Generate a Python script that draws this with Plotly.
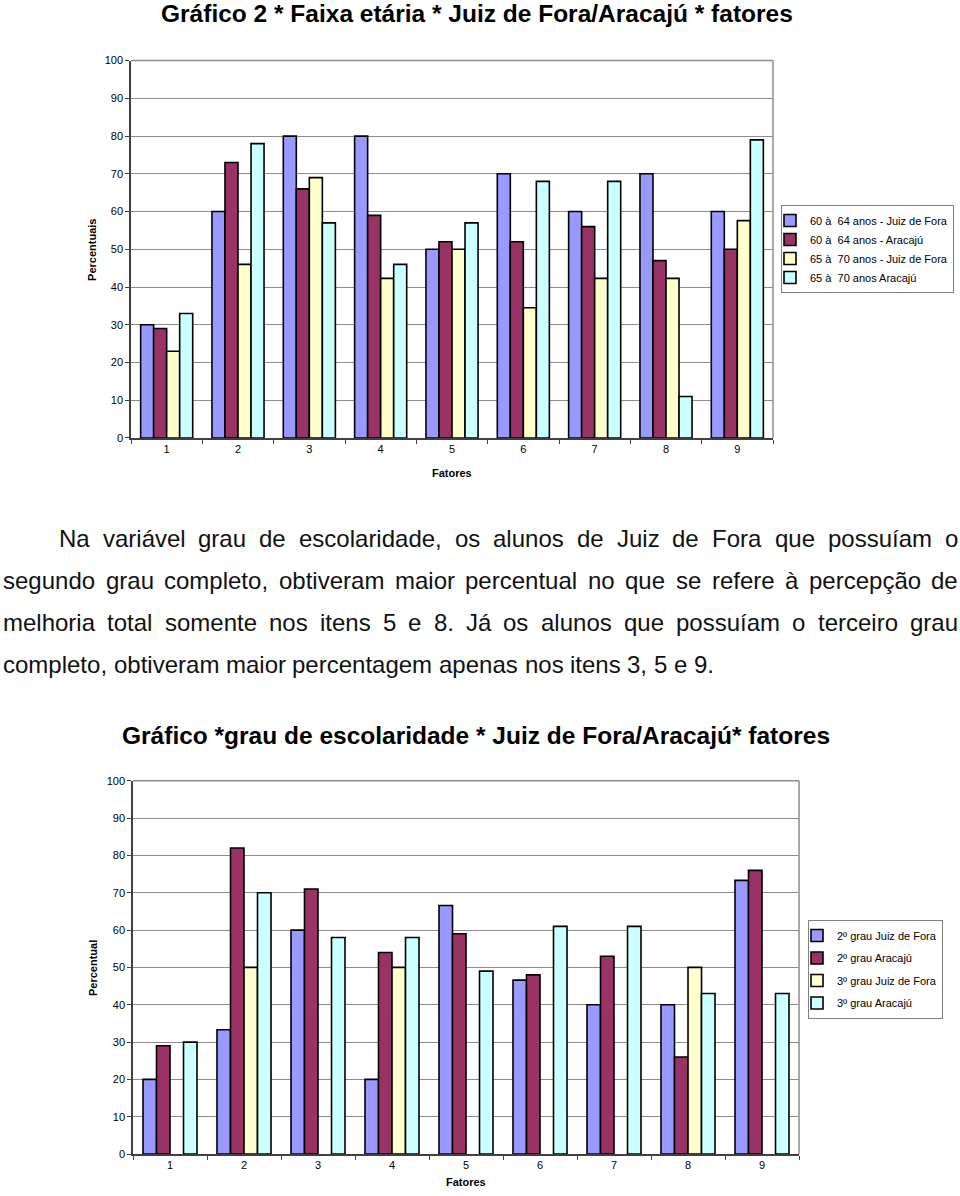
import plotly.graph_objects as go

W, H = 960, 1196

# ---------------- data ----------------
factors = ["1", "2", "3", "4", "5", "6", "7", "8", "9"]

c1_names = ["60 à  64 anos - Juiz de Fora", "60 à  64 anos - Aracajú",
            "65 à  70 anos - Juiz de Fora", "65 à  70 anos Aracajú"]
c1_jf_60 = [30, 60, 80, 80, 50, 70, 60, 70, 60]
c1_aj_60 = [29, 73, 66, 59, 52, 52, 56, 47, 50]
c1_jf_65 = [23, 46, 69, 42.3, 50, 34.5, 42.3, 42.3, 57.6]
c1_aj_65 = [33, 78, 57, 46, 57, 68, 68, 11, 79]

c2_names = ["2º grau Juiz de Fora", "2º grau Aracajú",
            "3º grau Juiz de Fora", "3º grau Aracajú"]
c2_jf_2 = [20, 33.3, 60, 20, 66.6, 46.6, 40, 40, 73.3]
c2_aj_2 = [29, 82, 71, 54, 59, 48, 53, 26, 76]
c2_jf_3 = [None, 50, None, 50, None, None, None, 50, None]
c2_aj_3 = [30, 70, 58, 58, 49, 61, 61, 43, 43]

y_ticks = [0, 10, 20, 30, 40, 50, 60, 70, 80, 90, 100]

title1 = "Gráfico 2 * Faixa etária * Juiz de Fora/Aracajú * fatores"
title2 = "Gráfico *grau de escolaridade * Juiz de Fora/Aracajú* fatores"
paragraph_lines = [
    "Na variável grau de escolaridade, os alunos de Juiz de Fora que possuíam o",
    "segundo grau completo, obtiveram maior percentual no que se refere à percepção de",
    "melhoria total somente nos itens 5 e 8. Já os alunos que possuíam o terceiro grau",
    "completo, obtiveram maior percentagem apenas nos itens 3, 5 e 9.",
]

colors = ["#9999FF", "#993366", "#FFFFCC", "#CCFFFF"]

# ---------------- helpers ----------------
def px(x):
    return x / W

def py(y):
    # target pixel row -> paper fraction (small vertical calibration of the capture)
    f = (y - 6.1) / 0.9898
    return min(1.0, max(0.0, 1 - f / H))

FONT = "Liberation Sans, Arial, sans-serif"
NARROW = "Liberation Sans Narrow, Arial Narrow, Liberation Sans, Arial, sans-serif"

fig = go.Figure()

for i, (name, vals) in enumerate(zip(c1_names, [c1_jf_60, c1_aj_60, c1_jf_65, c1_aj_65])):
    fig.add_trace(go.Bar(
        x=factors, y=vals, name=name, xaxis="x", yaxis="y",
        marker=dict(color=colors[i], line=dict(color="black", width=1.6)),
        legend="legend", legendgroup="a%d" % i,
    ))

for i, (name, vals) in enumerate(zip(c2_names, [c2_jf_2, c2_aj_2, c2_jf_3, c2_aj_3])):
    fig.add_trace(go.Bar(
        x=factors, y=vals, name=name, xaxis="x2", yaxis="y2",
        marker=dict(color=colors[i], line=dict(color="black", width=1.6)),
        legend="legend2", legendgroup="b%d" % i,
    ))

axis_font = dict(family=FONT, size=11, color="black")

def xaxis_cfg(x0, x1, anchor):
    return dict(
        domain=[px(x0), px(x1)], anchor=anchor, type="category",
        showline=True, linecolor="#404040", linewidth=1.5,
        ticks="outside", tickson="boundaries", ticklen=4, tickcolor="#404040",
        showgrid=False, tickfont=axis_font, fixedrange=True,
    )

def yaxis_cfg(y0, y1, anchor):
    return dict(
        domain=[py(y1), py(y0)], anchor=anchor, range=[0, 100],
        tickvals=y_ticks, showline=True, linecolor="#404040", linewidth=1.5,
        ticks="outside", ticklen=4, tickcolor="#404040",
        showgrid=True, gridcolor="#8c8c8c", gridwidth=1,
        tickfont=axis_font, zeroline=False, fixedrange=True,
    )

# chart 1 plot area: x 131..773, y 60.7..438
# chart 2 plot area: x 133..799, y 780.7..1154
fig.update_layout(
    width=W, height=H, autosize=False,
    margin=dict(l=0, r=0, t=0, b=0),
    paper_bgcolor="white", plot_bgcolor="white",
    barmode="group", bargap=0.27, bargroupgap=0,
    font=dict(family=FONT, color="black"),
    xaxis=xaxis_cfg(131, 773, "y"),
    yaxis=yaxis_cfg(60.7, 438, "x"),
    xaxis2=xaxis_cfg(133, 799, "y2"),
    yaxis2=yaxis_cfg(780.7, 1154, "x2"),
    legend=dict(
        x=px(781), y=py(205), xanchor="left", yanchor="top",
        bgcolor="white", bordercolor="#808080", borderwidth=1,
        font=dict(family=FONT, size=11, color="black"),
        itemwidth=30, tracegroupgap=2, traceorder="normal", indentation=-12,
    ),
    legend2=dict(
        x=px(808), y=py(920), xanchor="left", yanchor="top",
        bgcolor="white", bordercolor="#808080", borderwidth=1,
        font=dict(family=FONT, size=11, color="black"),
        itemwidth=30, tracegroupgap=3.5, traceorder="grouped", indentation=-12,
    ),
    showlegend=True,
)

shapes = []
for xr, yr in [("x", "y"), ("x2", "y2")]:
    # top and right frame lines in gray
    shapes.append(dict(type="line", xref=xr + " domain", yref=yr + " domain",
                       x0=0, x1=1, y0=1, y1=1, line=dict(color="#8c8c8c", width=1.5)))
    shapes.append(dict(type="line", xref=xr + " domain", yref=yr + " domain",
                       x0=1, x1=1, y0=0, y1=1, line=dict(color="#8c8c8c", width=1.5)))
fig.update_layout(shapes=shapes)

ann = []
# titles
ann.append(dict(text="<b>" + title1 + "</b>", x=px(477), y=py(14), xref="paper", yref="paper",
                showarrow=False, xanchor="center", yanchor="middle",
                font=dict(family=NARROW, size=24.5, color="black")))
ann.append(dict(text="<b>" + title2 + "</b>", x=px(476), y=py(735), xref="paper", yref="paper",
                showarrow=False, xanchor="center", yanchor="middle",
                font=dict(family=NARROW, size=24.5, color="black")))
# axis titles
ann.append(dict(text="<b>Fatores</b>", x=px(452), y=py(473), xref="paper", yref="paper",
                showarrow=False, xanchor="center", yanchor="middle",
                font=dict(family=FONT, size=11, color="black")))
ann.append(dict(text="<b>Fatores</b>", x=px(466), y=0, xref="paper", yref="paper",
                showarrow=False, xanchor="center", yanchor="bottom",
                font=dict(family=FONT, size=11, color="black")))
for txt, x, y in [("Percentuais", 92, 250), ("Percentual", 93, 968)]:
    ann.append(dict(text="<b>" + txt + "</b>", x=px(x), y=py(y), xref="paper", yref="paper",
                    showarrow=False, xanchor="center", yanchor="middle", textangle=-90,
                    font=dict(family=FONT, size=11, color="black")))

# paragraph, justified word by word (Arial metrics)
AW = {
    'a': 556, 'b': 556, 'c': 500, 'd': 556, 'e': 556, 'f': 278, 'g': 556, 'h': 556,
    'i': 222, 'j': 222, 'k': 500, 'l': 222, 'm': 833, 'n': 556, 'o': 556, 'p': 556,
    'q': 556, 'r': 333, 's': 500, 't': 278, 'u': 556, 'v': 500, 'w': 722, 'x': 500,
    'y': 500, 'z': 500, 'N': 722, 'J': 500, 'F': 611, 'á': 556, 'à': 556, 'ã': 556,
    'í': 278, 'ç': 500, ',': 278, '.': 278, ' ': 278,
}
def text_w(s, fs):
    return sum(AW.get(ch, 556) for ch in s) * fs / 1000.0

FS = 24
line_specs = [(58, 957, 538.5, True), (2, 957, 580.5, True), (2, 957, 622.5, True), (2, None, 664.5, False)]
for line, (xs, xe, mid, justify) in zip(paragraph_lines, line_specs):
    words = line.split(" ")
    widths = [text_w(w, FS) for w in words]
    if justify:
        gap = (xe - xs - sum(widths)) / (len(words) - 1)
    else:
        gap = text_w(" ", FS)
    x = xs
    for w, wd in zip(words, widths):
        ann.append(dict(text=w, x=px(x - 1), y=py(mid), xref="paper", yref="paper",
                        showarrow=False, xanchor="left", yanchor="middle",
                        font=dict(family=FONT, size=FS, color="#111111")))
        x += wd + gap

fig.update_layout(annotations=ann)

post = (
    "var de=document.documentElement, b=document.body;"
    "de.style.margin='0'; de.style.padding='0'; de.style.overflow='hidden';"
    "b.style.margin='0'; b.style.padding='0'; b.style.overflow='hidden';"
    "window.scrollTo(0,0);"
)
fig.write_html("out.html", config={"displayModeBar": False}, post_script=post)
